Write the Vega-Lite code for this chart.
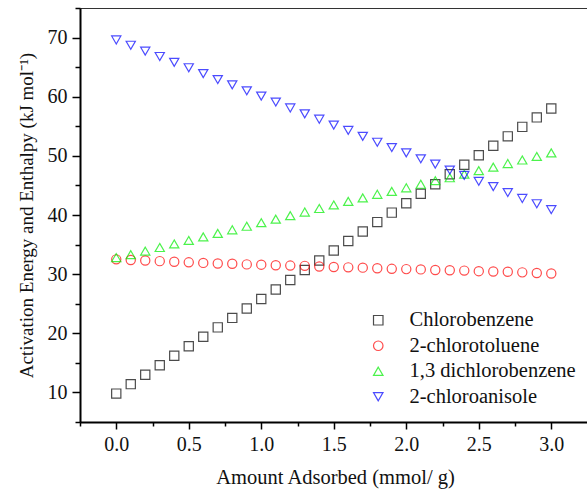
{
  "$schema": "https://vega.github.io/schema/vega-lite/v6.json",
  "width": 510,
  "height": 414,
  "autosize": {"type": "none"},
  "padding": {"left": 80, "top": 8, "right": 0, "bottom": 67},
  "background": "white",
  "config": {
    "view": {"stroke": "#333333", "strokeWidth": 1},
    "font": "Liberation Serif",
    "axis": {"grid": false, "domainColor": "black", "tickColor": "black", "labelColor": "#111", "titleColor": "#111", "labelFont": "Liberation Serif", "titleFont": "Liberation Serif", "labelFontSize": 20, "titleFontSize": 20.5, "titleFontWeight": "normal"}
  },
  "datasets": {
    "pts": [
      {"x": 0.0, "s": "Chlorobenzene", "v": 9.8}, {"x": 0.1, "s": "Chlorobenzene", "v": 11.4}, {"x": 0.2, "s": "Chlorobenzene", "v": 13.0}, {"x": 0.3, "s": "Chlorobenzene", "v": 14.6}, {"x": 0.4, "s": "Chlorobenzene", "v": 16.2}, {"x": 0.5, "s": "Chlorobenzene", "v": 17.8}, {"x": 0.6, "s": "Chlorobenzene", "v": 19.4}, {"x": 0.7, "s": "Chlorobenzene", "v": 21.0}, {"x": 0.8, "s": "Chlorobenzene", "v": 22.6}, {"x": 0.9, "s": "Chlorobenzene", "v": 24.2}, {"x": 1.0, "s": "Chlorobenzene", "v": 25.8}, {"x": 1.1, "s": "Chlorobenzene", "v": 27.4}, {"x": 1.2, "s": "Chlorobenzene", "v": 29.0}, {"x": 1.3, "s": "Chlorobenzene", "v": 30.7}, {"x": 1.4, "s": "Chlorobenzene", "v": 32.3}, {"x": 1.5, "s": "Chlorobenzene", "v": 34.0}, {"x": 1.6, "s": "Chlorobenzene", "v": 35.6}, {"x": 1.7, "s": "Chlorobenzene", "v": 37.2}, {"x": 1.8, "s": "Chlorobenzene", "v": 38.8}, {"x": 1.9, "s": "Chlorobenzene", "v": 40.4}, {"x": 2.0, "s": "Chlorobenzene", "v": 42.0}, {"x": 2.1, "s": "Chlorobenzene", "v": 43.6}, {"x": 2.2, "s": "Chlorobenzene", "v": 45.2}, {"x": 2.3, "s": "Chlorobenzene", "v": 46.9}, {"x": 2.4, "s": "Chlorobenzene", "v": 48.5}, {"x": 2.5, "s": "Chlorobenzene", "v": 50.1}, {"x": 2.6, "s": "Chlorobenzene", "v": 51.7}, {"x": 2.7, "s": "Chlorobenzene", "v": 53.3}, {"x": 2.8, "s": "Chlorobenzene", "v": 54.9}, {"x": 2.9, "s": "Chlorobenzene", "v": 56.5}, {"x": 3.0, "s": "Chlorobenzene", "v": 58.0},
      {"x": 0.0, "s": "2-chlorotoluene", "v": 32.5}, {"x": 0.1, "s": "2-chlorotoluene", "v": 32.4}, {"x": 0.2, "s": "2-chlorotoluene", "v": 32.3}, {"x": 0.3, "s": "2-chlorotoluene", "v": 32.2}, {"x": 0.4, "s": "2-chlorotoluene", "v": 32.1}, {"x": 0.5, "s": "2-chlorotoluene", "v": 32.0}, {"x": 0.6, "s": "2-chlorotoluene", "v": 31.9}, {"x": 0.7, "s": "2-chlorotoluene", "v": 31.8}, {"x": 0.8, "s": "2-chlorotoluene", "v": 31.75}, {"x": 0.9, "s": "2-chlorotoluene", "v": 31.65}, {"x": 1.0, "s": "2-chlorotoluene", "v": 31.6}, {"x": 1.1, "s": "2-chlorotoluene", "v": 31.5}, {"x": 1.2, "s": "2-chlorotoluene", "v": 31.45}, {"x": 1.3, "s": "2-chlorotoluene", "v": 31.4}, {"x": 1.4, "s": "2-chlorotoluene", "v": 31.3}, {"x": 1.5, "s": "2-chlorotoluene", "v": 31.2}, {"x": 1.6, "s": "2-chlorotoluene", "v": 31.15}, {"x": 1.7, "s": "2-chlorotoluene", "v": 31.1}, {"x": 1.8, "s": "2-chlorotoluene", "v": 31.0}, {"x": 1.9, "s": "2-chlorotoluene", "v": 30.9}, {"x": 2.0, "s": "2-chlorotoluene", "v": 30.85}, {"x": 2.1, "s": "2-chlorotoluene", "v": 30.8}, {"x": 2.2, "s": "2-chlorotoluene", "v": 30.7}, {"x": 2.3, "s": "2-chlorotoluene", "v": 30.65}, {"x": 2.4, "s": "2-chlorotoluene", "v": 30.6}, {"x": 2.5, "s": "2-chlorotoluene", "v": 30.5}, {"x": 2.6, "s": "2-chlorotoluene", "v": 30.45}, {"x": 2.7, "s": "2-chlorotoluene", "v": 30.4}, {"x": 2.8, "s": "2-chlorotoluene", "v": 30.3}, {"x": 2.9, "s": "2-chlorotoluene", "v": 30.2}, {"x": 3.0, "s": "2-chlorotoluene", "v": 30.1},
      {"x": 0.0, "s": "1,3 dichlorobenzene", "v": 32.8}, {"x": 0.1, "s": "1,3 dichlorobenzene", "v": 33.3}, {"x": 0.2, "s": "1,3 dichlorobenzene", "v": 33.9}, {"x": 0.3, "s": "1,3 dichlorobenzene", "v": 34.5}, {"x": 0.4, "s": "1,3 dichlorobenzene", "v": 35.1}, {"x": 0.5, "s": "1,3 dichlorobenzene", "v": 35.7}, {"x": 0.6, "s": "1,3 dichlorobenzene", "v": 36.3}, {"x": 0.7, "s": "1,3 dichlorobenzene", "v": 36.9}, {"x": 0.8, "s": "1,3 dichlorobenzene", "v": 37.5}, {"x": 0.9, "s": "1,3 dichlorobenzene", "v": 38.1}, {"x": 1.0, "s": "1,3 dichlorobenzene", "v": 38.7}, {"x": 1.1, "s": "1,3 dichlorobenzene", "v": 39.3}, {"x": 1.2, "s": "1,3 dichlorobenzene", "v": 39.9}, {"x": 1.3, "s": "1,3 dichlorobenzene", "v": 40.5}, {"x": 1.4, "s": "1,3 dichlorobenzene", "v": 41.1}, {"x": 1.5, "s": "1,3 dichlorobenzene", "v": 41.7}, {"x": 1.6, "s": "1,3 dichlorobenzene", "v": 42.3}, {"x": 1.7, "s": "1,3 dichlorobenzene", "v": 42.9}, {"x": 1.8, "s": "1,3 dichlorobenzene", "v": 43.5}, {"x": 1.9, "s": "1,3 dichlorobenzene", "v": 44.0}, {"x": 2.0, "s": "1,3 dichlorobenzene", "v": 44.6}, {"x": 2.1, "s": "1,3 dichlorobenzene", "v": 45.2}, {"x": 2.2, "s": "1,3 dichlorobenzene", "v": 45.8}, {"x": 2.3, "s": "1,3 dichlorobenzene", "v": 46.3}, {"x": 2.4, "s": "1,3 dichlorobenzene", "v": 46.9}, {"x": 2.5, "s": "1,3 dichlorobenzene", "v": 47.5}, {"x": 2.6, "s": "1,3 dichlorobenzene", "v": 48.1}, {"x": 2.7, "s": "1,3 dichlorobenzene", "v": 48.7}, {"x": 2.8, "s": "1,3 dichlorobenzene", "v": 49.3}, {"x": 2.9, "s": "1,3 dichlorobenzene", "v": 49.9}, {"x": 3.0, "s": "1,3 dichlorobenzene", "v": 50.5},
      {"x": 0.0, "s": "2-chloroanisole", "v": 69.6}, {"x": 0.1, "s": "2-chloroanisole", "v": 68.7}, {"x": 0.2, "s": "2-chloroanisole", "v": 67.7}, {"x": 0.3, "s": "2-chloroanisole", "v": 66.8}, {"x": 0.4, "s": "2-chloroanisole", "v": 65.8}, {"x": 0.5, "s": "2-chloroanisole", "v": 64.9}, {"x": 0.6, "s": "2-chloroanisole", "v": 63.9}, {"x": 0.7, "s": "2-chloroanisole", "v": 62.9}, {"x": 0.8, "s": "2-chloroanisole", "v": 62.0}, {"x": 0.9, "s": "2-chloroanisole", "v": 61.0}, {"x": 1.0, "s": "2-chloroanisole", "v": 60.1}, {"x": 1.1, "s": "2-chloroanisole", "v": 59.1}, {"x": 1.2, "s": "2-chloroanisole", "v": 58.1}, {"x": 1.3, "s": "2-chloroanisole", "v": 57.1}, {"x": 1.4, "s": "2-chloroanisole", "v": 56.2}, {"x": 1.5, "s": "2-chloroanisole", "v": 55.2}, {"x": 1.6, "s": "2-chloroanisole", "v": 54.3}, {"x": 1.7, "s": "2-chloroanisole", "v": 53.3}, {"x": 1.8, "s": "2-chloroanisole", "v": 52.3}, {"x": 1.9, "s": "2-chloroanisole", "v": 51.4}, {"x": 2.0, "s": "2-chloroanisole", "v": 50.5}, {"x": 2.1, "s": "2-chloroanisole", "v": 49.5}, {"x": 2.2, "s": "2-chloroanisole", "v": 48.6}, {"x": 2.3, "s": "2-chloroanisole", "v": 47.6}, {"x": 2.4, "s": "2-chloroanisole", "v": 46.7}, {"x": 2.5, "s": "2-chloroanisole", "v": 45.7}, {"x": 2.6, "s": "2-chloroanisole", "v": 44.8}, {"x": 2.7, "s": "2-chloroanisole", "v": 43.8}, {"x": 2.8, "s": "2-chloroanisole", "v": 42.8}, {"x": 2.9, "s": "2-chloroanisole", "v": 41.9}, {"x": 3.0, "s": "2-chloroanisole", "v": 40.9}
    ]
  },
  "data": {"name": "pts"},
  "layer": [
    {
      "mark": {"type": "point", "filled": false, "strokeWidth": 1.2, "size": 85},
      "encoding": {
        "x": {"field": "x", "type": "quantitative", "scale": {"domain": [-0.25, 3.267], "nice": false, "zero": false},
          "axis": {"orient": "bottom", "values": [0, 0.5, 1, 1.5, 2, 2.5, 3], "format": ".1f", "tickSize": 7, "tickWidth": 1.5, "domainWidth": 2, "labelPadding": 5, "title": "Amount Adsorbed (mmol/ g)", "titlePadding": 13}},
        "y": {"field": "v", "type": "quantitative", "scale": {"domain": [5, 75], "nice": false, "zero": false},
          "axis": {"orient": "left", "values": [10, 20, 30, 40, 50, 60, 70], "tickSize": 8, "tickWidth": 1.5, "domainWidth": 2, "labelPadding": 5, "title": "Activation Energy and Enthalpy (kJ mol⁻¹)", "titleFontSize": 19, "titlePadding": 11}},
        "color": {"field": "s", "type": "nominal",
          "scale": {"domain": ["Chlorobenzene", "2-chlorotoluene", "1,3 dichlorobenzene", "2-chloroanisole"], "range": ["#000000", "#ff0000", "#00ee00", "#0000ff"]},
          "legend": {"orient": "none", "legendX": 288, "legendY": 302, "title": null, "labelFontSize": 20.5, "labelLimit": 400, "labelFont": "Liberation Serif", "labelColor": "#111", "symbolSize": 90, "symbolStrokeWidth": 1.2, "labelOffset": 21, "rowPadding": 4.5, "padding": 0, "symbolFillColor": "transparent"}},
        "shape": {"field": "s", "type": "nominal",
          "scale": {"domain": ["Chlorobenzene", "2-chlorotoluene", "1,3 dichlorobenzene", "2-chloroanisole"], "range": ["square", "circle", "triangle-up", "triangle-down"]}}
      }
    },
    {
      "mark": {"type": "point", "opacity": 0},
      "encoding": {
        "x": {"field": "x", "type": "quantitative",
          "axis": {"orient": "bottom", "values": [-0.25, 0.25, 0.75, 1.25, 1.75, 2.25, 2.75, 3.25], "labels": false, "domain": false, "tickSize": 4, "tickWidth": 1.5, "title": null}},
        "y": {"field": "v", "type": "quantitative",
          "axis": {"orient": "left", "values": [5, 15, 25, 35, 45, 55, 65, 75], "labels": false, "domain": false, "tickSize": 5, "tickWidth": 1.5, "title": null}}
      }
    }
  ],
  "resolve": {"axis": {"x": "independent", "y": "independent"}}
}
